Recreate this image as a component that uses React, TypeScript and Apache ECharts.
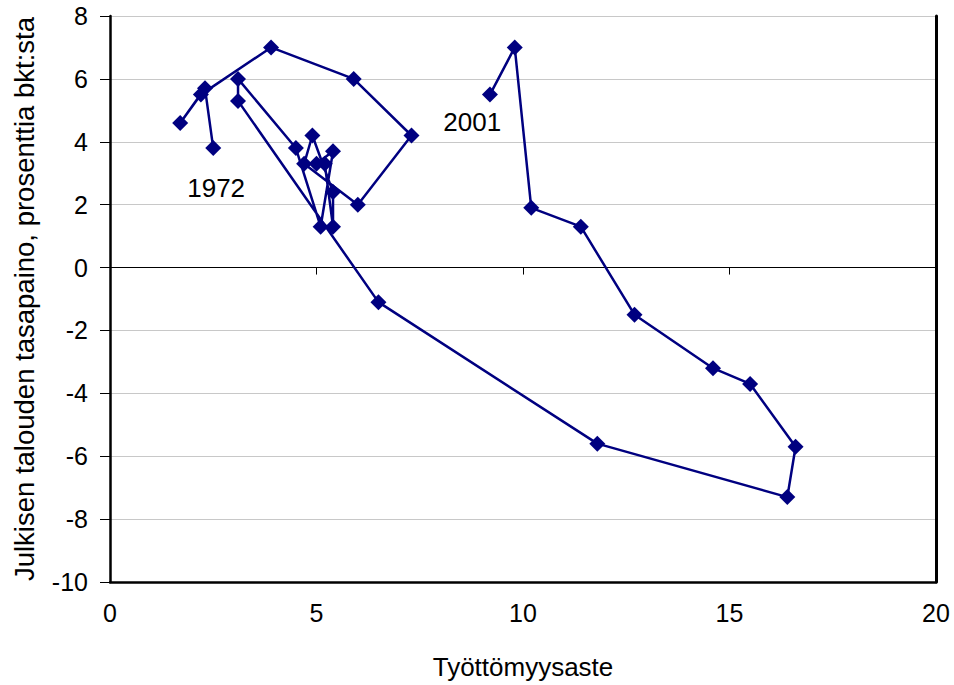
import React, { useEffect, useRef } from "react";
import * as echarts from "echarts";

// Years 1972–2001 (connected scatter, in time order)
const years = [
  1972, 1973, 1974, 1975, 1976, 1977, 1978, 1979, 1980, 1981,
  1982, 1983, 1984, 1985, 1986, 1987, 1988, 1989, 1990, 1991,
  1992, 1993, 1994, 1995, 1996, 1997, 1998, 1999, 2000, 2001,
];
// Työttömyysaste (x)
const unemployment = [
  2.5, 2.3, 1.7, 2.2, 3.9, 5.9, 7.3, 6.0, 4.7, 4.9,
  5.4, 5.4, 5.2, 5.0, 5.4, 5.1, 4.5, 3.1, 3.1, 6.5,
  11.8, 16.4, 16.6, 15.5, 14.6, 12.7, 11.4, 10.2, 9.8, 9.2,
];
// Julkisen talouden tasapaino, % bkt (y)
const balance = [
  3.8, 5.7, 4.6, 5.5, 7.0, 6.0, 4.2, 2.0, 3.3, 4.2,
  2.4, 1.3, 3.3, 3.3, 3.7, 1.3, 3.8, 6.0, 5.3, -1.1,
  -5.6, -7.3, -5.7, -3.7, -3.2, -1.5, 1.3, 1.9, 7.0, 5.5,
];

const xMin = 0;
const xMax = 20;
const xStep = 5;
const yMin = -10;
const yMax = 8;
const yStep = 2;

const xTitle = "Työttömyysaste";
const yTitle = "Julkisen talouden tasapaino, prosenttia bkt:sta";

const annotationLabels = ["1972", "2001"];
const annotationCoords = [
  [2.57, 2.53],
  [8.77, 4.63],
];

const FONT = "'Liberation Sans', Arial, Helvetica, sans-serif";
const NAVY = "#000080";

export default function App() {
  const ref = useRef<HTMLDivElement>(null);

  useEffect(() => {
    if (!ref.current) return;
    const chart = echarts.init(ref.current, undefined, { renderer: "svg" });
    const points = unemployment.map((x, i) => [x, balance[i], years[i]]);

    chart.setOption({
      animation: false,
      backgroundColor: "#ffffff",
      textStyle: { fontFamily: FONT },
      grid: { left: 110, right: 18, top: 16, bottom: 102, containLabel: false },
      xAxis: [
        {
          type: "value",
          min: xMin,
          max: xMax,
          interval: xStep,
          position: "bottom",
          name: xTitle,
          nameLocation: "middle",
          nameGap: 72,
          nameTextStyle: { fontSize: 26, color: "#000", fontFamily: FONT },
          axisLine: { show: true, onZero: false, lineStyle: { color: "#000", width: 2.5 } },
          axisTick: { show: false },
          axisLabel: { fontSize: 25, color: "#000", margin: 18, fontFamily: FONT },
          splitLine: { show: false },
        },
        {
          type: "value",
          min: xMin,
          max: xMax,
          interval: xStep,
          position: "top",
          axisLine: { show: true, onZero: true, lineStyle: { color: "#000", width: 1 } },
          axisTick: { show: true, inside: true, length: 7, lineStyle: { color: "#000", width: 1 } },
          axisLabel: { show: false },
          splitLine: { show: false },
        },
      ],
      yAxis: [
        {
          type: "value",
          min: yMin,
          max: yMax,
          interval: yStep,
          position: "left",
          name: yTitle,
          nameLocation: "middle",
          nameGap: 72,
          nameTextStyle: { fontSize: 27.5, color: "#000", fontFamily: FONT },
          axisLine: { show: true, onZero: false, lineStyle: { color: "#000", width: 2.5 } },
          axisTick: { show: true, length: 10, lineStyle: { color: "#000", width: 1 } },
          axisLabel: { fontSize: 25, color: "#000", margin: 22, fontFamily: FONT },
          splitLine: { show: true, lineStyle: { color: "#c8c8c8", width: 1 } },
        },
        {
          type: "value",
          min: yMin,
          max: yMax,
          interval: yStep,
          position: "right",
          axisLine: { show: true, onZero: false, lineStyle: { color: "#000", width: 3 } },
          axisTick: { show: false },
          axisLabel: { show: false },
          splitLine: { show: false },
        },
      ],
      series: [
        {
          type: "line",
          xAxisIndex: 0,
          yAxisIndex: 0,
          data: points,
          symbol: "diamond",
          symbolSize: 16,
          showAllSymbol: true,
          itemStyle: { color: NAVY },
          lineStyle: { color: NAVY, width: 2.5 },
          z: 5,
          markPoint: {
            symbol: "circle",
            symbolSize: 0,
            silent: true,
            label: {
              show: true,
              position: "inside",
              formatter: "{b}",
              fontSize: 26,
              color: "#000",
              fontFamily: FONT,
            },
            data: annotationLabels.map((name, i) => ({
              name,
              coord: annotationCoords[i],
            })),
          },
        },
      ],
    });

    return () => chart.dispose();
  }, []);

  return (
    <div
      ref={ref}
      style={{ position: "absolute", left: 0, top: 0, width: 954, height: 685 }}
    />
  );
}
